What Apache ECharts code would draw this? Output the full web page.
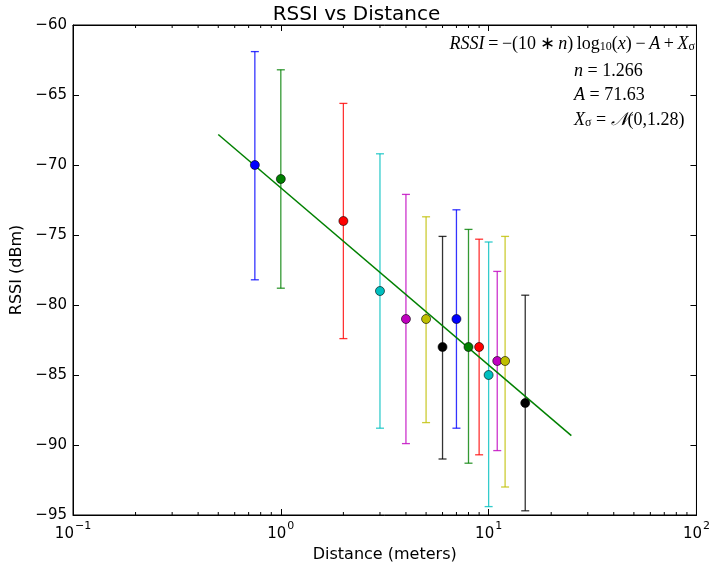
<!DOCTYPE html>
<html>
<head>
<meta charset="utf-8">
<script src="https://cdn.jsdelivr.net/npm/echarts@6/dist/echarts.min.js"></script>
<style>html,body{margin:0;padding:0;background:#fff;}#c{width:713px;height:570px;}</style>
</head>
<body>
<div id="c"></div>
<script>
// Data
const distances = [0.75, 1, 2, 3, 4, 5, 6, 7, 8, 9, 10, 11, 12, 15];
const rssiMean  = [-70, -71, -74, -79, -81, -81, -83, -81, -83, -83, -85, -84, -84, -87];
const rssiHigh  = [-61.9, -63.2, -65.6, -69.2, -72.1, -73.7, -75.1, -73.2, -74.6, -75.3, -75.5, -77.6, -75.1, -79.3];
const rssiLow   = [-78.2, -78.8, -82.4, -88.8, -89.9, -88.4, -91.0, -88.8, -91.3, -90.7, -94.4, -90.4, -93.0, -94.7];
const fitX = [0.5, 25];
const fitY = [-67.82, -89.33];
const yTicks = [-95, -90, -85, -80, -75, -70, -65, -60];
const xDecades = [0.1, 1, 10, 100];

const colors = ['#0000ff', '#008000', '#ff0000', '#00bfbf', '#bf00bf', '#bfbf00', '#000000'];
const FONT = 'DejaVu Sans';

const minorTicks = [];
for (let d = 0; d < xDecades.length - 1; d++) {
  for (let k = 2; k <= 9; k++) minorTicks.push(xDecades[d] * k);
}

const errData = distances.map((x, i) => [x, rssiLow[i], rssiHigh[i]]);
const ptData = distances.map((x, i) => [x, rssiMean[i]]);
const fitData = fitX.map((x, i) => [x, fitY[i]]);

const supMinus = s => s.replace('-', '\u2212');

const chart = echarts.init(document.getElementById('c'), null, {renderer: 'canvas'});
const mathRich = (fs, lh) => ({
  i: {fontFamily: 'Liberation Serif', fontStyle: 'italic', fontSize: fs, fill: '#000', lineHeight: lh, verticalAlign: 'bottom'},
  n: {fontFamily: 'Liberation Serif', fontSize: fs, fill: '#000', lineHeight: lh, verticalAlign: 'bottom'},
  sub: {fontFamily: 'Liberation Serif', fontSize: Math.round(fs * 0.65), fill: '#000', lineHeight: lh - 4, verticalAlign: 'bottom'}
});
const option = {
  animation: false,
  backgroundColor: '#fff',
  title: {
    text: 'RSSI vs Distance', left: 'center', top: 0,
    textStyle: {fontFamily: FONT, fontSize: 20, fontWeight: 'normal', color: '#000'}
  },
  grid: {left: 73, right: 13, top: 25, bottom: 55, show: true, borderColor: '#000', borderWidth: 1, backgroundColor: 'transparent'},
  xAxis: [{
    type: 'log', logBase: 10, min: 0.1, max: 100,
    name: 'Distance (meters)', nameLocation: 'middle', nameGap: 32,
    nameTextStyle: {fontFamily: FONT, fontSize: 16, color: '#000'},
    axisLine: {show: true, onZero: false, lineStyle: {color: '#000', width: 1}},
    axisTick: {show: true, inside: true, length: 6, lineStyle: {color: '#000'}},
    splitLine: {show: false},
    axisLabel: {
      margin: 6, color: '#000',
      formatter: v => {
        const e = Math.round(Math.log10(v));
        return '{b|10}{s|' + supMinus(String(e)) + '}';
      },
      rich: {
        b: {fontFamily: FONT, fontSize: 15, color: '#000', lineHeight: 21, verticalAlign: 'bottom'},
        s: {fontFamily: FONT, fontSize: 11, color: '#000', lineHeight: 21, verticalAlign: 'top', padding: [0, 0, 0, 1]}
      }
    }
  }, {
    type: 'log', logBase: 10, min: 0.1, max: 100, position: 'top',
    axisLine: {show: true, onZero: false, lineStyle: {color: '#000'}},
    axisTick: {show: true, inside: true, length: 6, lineStyle: {color: '#000'}},
    axisLabel: {show: false}, splitLine: {show: false}
  }],
  yAxis: [{
    type: 'value', min: -95, max: -60, interval: 5,
    name: 'RSSI (dBm)', nameLocation: 'middle', nameGap: 45,
    nameTextStyle: {fontFamily: FONT, fontSize: 16, color: '#000'},
    axisLine: {show: true, onZero: false, lineStyle: {color: '#000'}},
    axisTick: {show: true, inside: true, length: 6, lineStyle: {color: '#000'}},
    splitLine: {show: false},
    axisLabel: {fontFamily: FONT, fontSize: 15, color: '#000', margin: 6,
      formatter: v => supMinus(String(v))}
  }, {
    type: 'value', min: -95, max: -60, interval: 5, position: 'right',
    axisLine: {show: true, onZero: false, lineStyle: {color: '#000'}},
    axisTick: {show: true, inside: true, length: 6, lineStyle: {color: '#000'}},
    axisLabel: {show: false}, splitLine: {show: false}
  }],
  series: [
    {
      type: 'custom', name: 'minorTicks', silent: true, z: 1,
      data: minorTicks.map(x => [x, -95]),
      renderItem: (params, api) => {
        const p = api.coord([api.value(0), -95]);
        const cs = params.coordSys;
        const top = cs.y, bot = cs.y + cs.height;
        return {type: 'group', children: [
          {type: 'line', shape: {x1: p[0], y1: bot, x2: p[0], y2: bot - 3}, style: {stroke: '#000', lineWidth: 1}},
          {type: 'line', shape: {x1: p[0], y1: top, x2: p[0], y2: top + 3}, style: {stroke: '#000', lineWidth: 1}}
        ]};
      }
    },
    {
      type: 'custom', name: 'errorbars', z: 2,
      data: errData,
      renderItem: (params, api) => {
        const x = api.value(0);
        const pLo = api.coord([x, api.value(1)]);
        const pHi = api.coord([x, api.value(2)]);
        const c = colors[params.dataIndex % colors.length];
        const hw = 4;
        const st = {stroke: c, lineWidth: 1.3, opacity: 0.8};
        return {type: 'group', children: [
          {type: 'line', shape: {x1: pHi[0], y1: pHi[1], x2: pLo[0], y2: pLo[1]}, style: st},
          {type: 'line', shape: {x1: pHi[0] - hw, y1: pHi[1], x2: pHi[0] + hw, y2: pHi[1]}, style: st},
          {type: 'line', shape: {x1: pLo[0] - hw, y1: pLo[1], x2: pLo[0] + hw, y2: pLo[1]}, style: st}
        ]};
      }
    },
    {
      type: 'line', name: 'fit', data: fitData, showSymbol: false, z: 3,
      lineStyle: {color: '#008000', width: 1.5}
    },
    {
      type: 'scatter', name: 'mean', data: ptData, symbol: 'circle', symbolSize: 9, z: 4,
      itemStyle: {color: p => colors[p.dataIndex % colors.length], borderColor: '#000', borderWidth: 0.6, opacity: 1}
    }
  ],
  graphic: [
    {
      type: 'text', right: 18, top: 35,
      style: {
        text: '{i|RSSI}{n|\u2009=\u2009\u2212(10\u2009\u2217\u2009}{i|n}{n|)\u2009log}{sub|10}{n|(}{i|x}{n|)\u2009\u2212\u2009}{i|A}{n|\u2009+\u2009}{i|X}{sub|\u03c3}',
        rich: mathRich(18, 22)
      }
    },
    {
      type: 'text', left: 574, top: 62,
      style: {
        text: '{i|n}{n| = 1.266}\n{i|A}{n| = 71.63}\n{i|X}{sub|\u03c3}{n| = }{i|\ud835\udca9}{n|(0,1.28)}',
        rich: mathRich(18, 24.5)
      }
    }
  ]
};
chart.setOption(option);
</script>
</body>
</html>
